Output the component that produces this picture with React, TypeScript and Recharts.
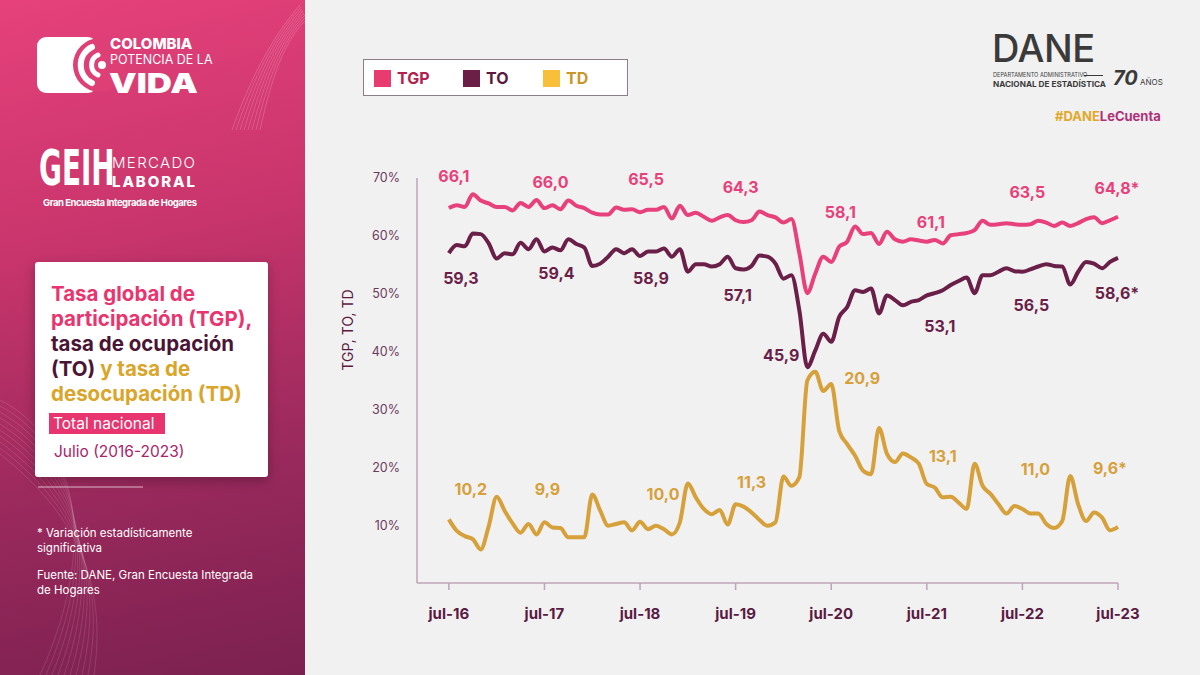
import React from 'react';
import { LineChart, Line, XAxis, YAxis, LabelList } from 'recharts';

// monthly series, jul-16 .. jul-23 (85 months)
const tgp = [
  64.8, 65.3, 65.0, 67.2, 66.1, 65.6, 65.0, 65.0, 64.4, 65.7, 65.0, 66.2,
  64.8, 65.3, 64.6, 66.1, 65.2, 64.8, 64.0, 63.7, 63.7, 64.9, 64.5, 64.6,
  64.1, 64.5, 64.5, 65.0, 63.0, 65.2, 63.6, 64.0, 63.3, 62.6, 63.2, 63.6,
  62.7, 62.4, 62.7, 64.2, 63.6, 63.2, 62.3, 62.9, 57.0, 50.1, 53.5, 56.4,
  55.5, 58.1, 59.0, 61.6, 60.3, 60.5, 58.6, 60.7, 59.4, 59.0, 59.4, 59.2,
  59.0, 59.3, 58.7, 60.1, 60.3, 60.5, 61.0, 62.6, 61.9, 62.0, 62.2, 62.0,
  61.9, 62.0, 62.6, 62.3, 61.7, 62.3, 61.7, 62.2, 62.9, 63.2, 62.2, 62.7,
  63.3,
];
const to = [
  57.0, 58.4, 58.2, 60.4, 60.3, 58.7, 56.1, 57.0, 56.8, 58.8, 57.7, 59.4,
  57.3, 58.0, 57.5, 59.4, 58.6, 58.0, 54.8, 55.2, 56.4, 57.7, 57.0, 57.7,
  56.5, 57.3, 57.3, 57.8, 56.4, 57.7, 53.8, 55.1, 55.1, 54.7, 55.1, 56.4,
  54.4, 54.2, 54.8, 56.6, 56.4, 55.2, 52.6, 53.2, 47.1, 37.3, 40.2, 43.1,
  41.7, 46.0, 47.7, 50.6, 50.3, 50.9, 46.6, 49.7, 48.9, 48.0, 48.6, 48.9,
  49.7, 50.1, 50.6, 51.5, 52.2, 52.8, 50.1, 53.2, 53.2, 53.8, 54.4, 53.9,
  53.8, 54.2, 54.7, 55.1, 54.8, 54.7, 51.6, 53.8, 55.5, 55.2, 54.4, 55.5,
  56.2,
];
const td = [
  11.0, 9.0, 8.1, 7.6, 5.8, 9.8, 14.9, 12.5, 10.3, 8.7, 10.2, 8.4,
  10.5, 9.6, 9.5, 7.9, 7.9, 7.9, 15.3, 12.5, 9.9, 10.2, 10.5, 9.1,
  10.6, 9.3, 9.9, 9.3, 8.4, 10.5, 17.2, 14.8, 12.8, 11.9, 12.6, 10.1,
  13.6, 13.2, 12.2, 10.9, 9.9, 10.5, 18.4, 16.8, 18.3, 35.0, 36.5, 33.2,
  34.4, 26.3, 24.0, 22.0, 19.4, 18.8, 26.8, 22.3, 20.9, 22.4, 21.7, 20.6,
  17.1, 16.5, 14.8, 14.9, 13.9, 12.8, 20.6, 16.8, 15.4, 13.6, 12.0, 13.3,
  12.8, 12.0, 12.0, 10.2, 9.5, 10.7, 18.5, 13.6, 10.7, 12.2, 11.3, 9.1,
  9.7,
];

// July values written on the chart
const tgpJuly = ['66,1', '66,0', '65,5', '64,3', '58,1', '61,1', '63,5', '64,8*'];
const toJuly = ['59,3', '59,4', '58,9', '57,1', '45,9', '53,1', '56,5', '58,6*'];
const tdJuly = ['10,2', '9,9', '10,0', '11,3', '20,9', '13,1', '11,0', '9,6*'];

const xTicks = [0, 12, 24, 36, 48, 60, 72, 84];
const xTickLabels = ['jul-16', 'jul-17', 'jul-18', 'jul-19', 'jul-20', 'jul-21', 'jul-22', 'jul-23'];
const yTicks = [10, 20, 30, 40, 50, 60, 70];

// label offsets from the July point, px
const tgpOffsets = [[5, -32], [6, -26], [6, -33], [5, -33], [9, -50], [4, -20], [5, -33], [-1, -29]];
const toOffsets = [[12, 25], [12, 22], [11, 22], [2, 27], [-50, 13], [13, 31], [9, 33], [-1, 35]];
const tdOffsets = [[22, -30], [3, -33], [23, -28], [16, -22], [31, -6], [16, -28], [13, -40], [-8, -59]];

const PINK = '#E8407A';
const PLUM = '#6A1F48';
const GOLD = '#D6A03A';
const AXIS = '#BFA3B8';
const TEXT_DARK = '#5A1A42';

const makeLabel = (texts: string[], offsets: number[][], color: string) => (props: any) => {
  const { x, y, index } = props;
  if (index % 12 !== 0) return null;
  const k = index / 12;
  return (
    <text
      x={x + offsets[k][0]}
      y={y + offsets[k][1]}
      textAnchor="middle"
      dominantBaseline="central"
      fill={color}
      fontSize={16}
      fontWeight={700}
    >
      {texts[k]}
    </text>
  );
};

const legendItems = [
  { name: 'TGP', box: '#E83B6F', text: '#B3214F' },
  { name: 'TO', box: '#6B1F47', text: '#5A1A3E' },
  { name: 'TD', box: '#F8BF3A', text: '#C8962A' },
];

export default function App() {
  const data = tgp.map((v, i) => ({ m: i, tgp: v, to: to[i], td: td[i] }));

  return (
    <div
      style={{
        position: 'absolute',
        left: 0,
        top: 0,
        width: 1200,
        height: 675,
        overflow: 'hidden',
        background: '#F1F1F1',
        fontFamily: 'Inter, "Noto Sans", sans-serif',
      }}
    >
      {/* left panel */}
      <div
        style={{
          position: 'absolute',
          left: 0,
          top: 0,
          width: 305,
          height: 675,
          background: 'linear-gradient(168deg, #E6417A 0%, #C8356C 35%, #99295C 70%, #7B2150 100%)',
        }}
      >
        <svg width={305} height={675} style={{ position: 'absolute', left: 0, top: 0 }}>
          {/* faint wave lines */}
          {[0, 1, 2, 3, 4, 5, 6, 7].map((i) => (
            <path
              key={'a' + i}
              d={`M ${232 + i * 4} 130 C ${250 + i * 3} 80, ${270 + i * 2} 40, ${300 + i} ${5 + i * 2}`}
              stroke="#ffffff"
              strokeOpacity={0.18}
              fill="none"
            />
          ))}
          {[0, 1, 2, 3, 4, 5, 6, 7, 8, 9].map((i) => (
            <path
              key={'b' + i}
              d={`M 0 ${400 + i * 6} C 60 ${430 + i * 8}, 110 ${520 + i * 5}, ${40 + i * 6} 675`}
              stroke="#ffffff"
              strokeOpacity={0.12}
              fill="none"
            />
          ))}
          {/* Colombia logo */}
          <rect x={37} y={37} width={60} height={56} rx={9} fill="#ffffff" />
          <circle cx={100} cy={65} r={27} fill="#DE3F74" />
          <path d="M 92 47 A 20 20 0 0 0 92 83" stroke="#ffffff" strokeWidth={6} fill="none" strokeLinecap="round" />
          <path d="M 98 55 A 11 11 0 0 0 98 75" stroke="#ffffff" strokeWidth={5} fill="none" strokeLinecap="round" />
          <circle cx={102} cy={65} r={4} fill="#ffffff" />
          <text x={110} y={49} fill="#fff" fontSize={15} fontWeight={800}>COLOMBIA</text>
          <text x={110} y={64} fill="#fff" fontSize={12.5} fontWeight={400}>POTENCIA DE LA</text>
          <text x={109} y={93} fill="#fff" fontSize={27} fontWeight={900} textLength={89} lengthAdjust="spacingAndGlyphs">VIDA</text>
          {/* GEIH logo */}
          <g transform="translate(39,185) scale(1,1.6)">
            <text x={0} y={0} fill="#fff" fontSize={31} fontWeight={700} fontFamily='"DejaVu Sans Condensed", sans-serif'>GEIH</text>
          </g>
          <text x={112} y={168} fill="#fff" fontSize={15} fontWeight={300} textLength={83}>MERCADO</text>
          <text x={112} y={187} fill="#fff" fontSize={15} fontWeight={800} textLength={83}>LABORAL</text>
          <text x={43} y={206} fill="#fff" fontSize={9.5} fontWeight={700} textLength={154}>Gran Encuesta Integrada de Hogares</text>
          <line x1={38} y1={487} x2={143} y2={487} stroke="#ffffff" strokeOpacity={0.7} />
        </svg>

        {/* title card */}
        <div
          style={{
            position: 'absolute',
            left: 35,
            top: 262,
            width: 233,
            height: 215,
            background: '#ffffff',
            borderRadius: 3,
            boxShadow: '0 4px 12px rgba(0,0,0,0.25)',
          }}
        >
          <div
            style={{
              position: 'absolute',
              left: 16,
              top: 19,
              fontSize: 20.5,
              lineHeight: '25px',
              fontWeight: 700,
              whiteSpace: 'nowrap',
            }}
          >
            <span style={{ color: '#E8356F' }}>Tasa global de<br />participación (TGP),</span>
            <br />
            <span style={{ color: '#4A1535' }}>tasa de ocupación<br />(TO)</span>
            <span style={{ color: '#D9A52B' }}> y tasa de<br />desocupación (TD)</span>
          </div>
          <div
            style={{
              position: 'absolute',
              left: 14,
              top: 151,
              width: 116,
              height: 21,
              background: '#E8356F',
              color: '#fff',
              fontSize: 15.5,
              lineHeight: '21px',
              paddingLeft: 4,
              boxSizing: 'border-box',
            }}
          >
            Total nacional
          </div>
          <div style={{ position: 'absolute', left: 19, top: 180, color: '#A8246A', fontSize: 15.5 }}>
            Julio (2016-2023)
          </div>
        </div>

        <div style={{ position: 'absolute', left: 37, top: 526, color: '#fff', fontSize: 11.5, lineHeight: '15px' }}>
          * Variación estadísticamente
          <br />
          significativa
        </div>
        <div style={{ position: 'absolute', left: 37, top: 568, color: '#fff', fontSize: 11.5, lineHeight: '15px' }}>
          Fuente: DANE, Gran Encuesta Integrada
          <br />
          de Hogares
        </div>
      </div>

      {/* DANE logo */}
      <div style={{ position: 'absolute', left: 992, top: 29, height: 38, fontSize: 38, lineHeight: '38px', fontWeight: 500, letterSpacing: -0.5, color: '#3A3A3A' }}>
        DANE
      </div>
      <div style={{ position: 'absolute', left: 993, top: 72, fontSize: 5.6, lineHeight: '6px', color: '#3A3A3A' }}>
        DEPARTAMENTO ADMINISTRATIVO
      </div>
      <div style={{ position: 'absolute', left: 1084, top: 75, width: 19, height: 1, background: '#3A3A3A' }} />
      <div style={{ position: 'absolute', left: 993, top: 79, fontSize: 8.2, lineHeight: '10px', fontWeight: 700, color: '#3A3A3A' }}>
        NACIONAL DE ESTADÍSTICA
      </div>
      <div style={{ position: 'absolute', left: 1113, top: 67, color: '#3A3A3A', fontSize: 20, lineHeight: '22px', fontStyle: 'italic', fontWeight: 700 }}>
        70<span style={{ fontSize: 8, fontStyle: 'normal', fontWeight: 400 }}> AÑOS</span>
      </div>
      <div style={{ position: 'absolute', left: 1055, top: 108, fontSize: 13, fontWeight: 700 }}>
        <span style={{ color: '#E0A92A' }}>#DANE</span>
        <span style={{ color: '#B0307A' }}>LeCuenta</span>
      </div>

      {/* legend */}
      <div
        style={{
          position: 'absolute',
          left: 363,
          top: 59,
          width: 265,
          height: 37,
          background: '#ffffff',
          border: '1px solid #8C7D88',
          boxSizing: 'border-box',
        }}
      >
        {legendItems.map((it, i) => (
          <div
            key={it.name}
            style={{ position: 'absolute', left: [10, 99, 179][i], top: 8, display: 'flex', alignItems: 'center' }}
          >
            <div style={{ width: 17, height: 17, background: it.box }} />
            <span style={{ marginLeft: 6, color: it.text, fontSize: 16, fontWeight: 700 }}>{it.name}</span>
          </div>
        ))}
      </div>

      {/* y axis title */}
      <div
        style={{
          position: 'absolute',
          left: 347,
          top: 330,
          transform: 'translate(-50%, -50%) rotate(-90deg)',
          color: TEXT_DARK,
          fontSize: 14,
          whiteSpace: 'nowrap',
        }}
      >
        TGP, TO, TD
      </div>

      <div style={{ position: 'absolute', left: 300, top: 150 }}>
        <LineChart width={880} height={500} data={data} margin={{ top: 28, right: 62, bottom: 27, left: 0 }}>
          <XAxis
            type="number"
            dataKey="m"
            domain={[-4, 84]}
            ticks={xTicks}
            tickFormatter={(v: number) => xTickLabels[xTicks.indexOf(v)]}
            axisLine={{ stroke: AXIS, strokeWidth: 1.5 }}
            tickLine={{ stroke: AXIS, strokeWidth: 1.5 }}
            tickSize={7}
            tickMargin={18}
            height={40}
            tick={{ fill: TEXT_DARK, fontSize: 15, fontWeight: 700 }}
          />
          <YAxis
            type="number"
            domain={[0, 70]}
            ticks={yTicks}
            tickFormatter={(v: number) => `${v}%`}
            axisLine={{ stroke: AXIS, strokeWidth: 1.5 }}
            tickLine={false}
            tickSize={6}
            tickMargin={11}
            width={117}
            tick={{ fill: '#6B3A5C', fontSize: 12.5 }}
          />
          <Line type="monotone" dataKey="tgp" stroke={PINK} strokeWidth={4} dot={false} isAnimationActive={false}>
            <LabelList dataKey="tgp" content={makeLabel(tgpJuly, tgpOffsets, PINK)} />
          </Line>
          <Line type="monotone" dataKey="to" stroke={PLUM} strokeWidth={4} dot={false} isAnimationActive={false}>
            <LabelList dataKey="to" content={makeLabel(toJuly, toOffsets, PLUM)} />
          </Line>
          <Line type="monotone" dataKey="td" stroke={GOLD} strokeWidth={4} dot={false} isAnimationActive={false}>
            <LabelList dataKey="td" content={makeLabel(tdJuly, tdOffsets, GOLD)} />
          </Line>
        </LineChart>
      </div>
    </div>
  );
}
